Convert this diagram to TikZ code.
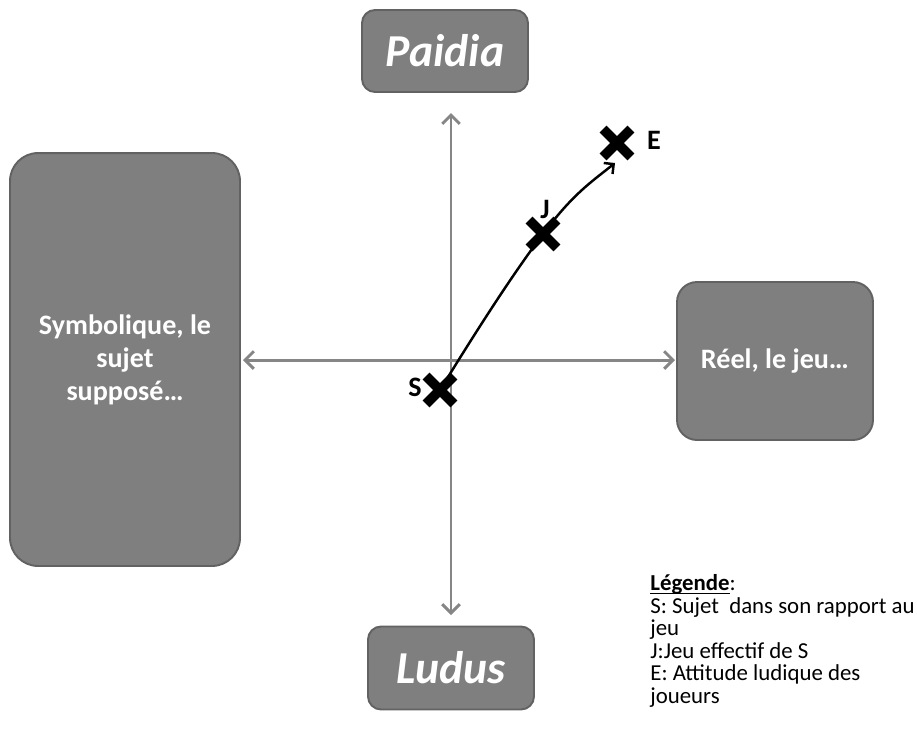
\documentclass[tikz,border=0pt]{standalone}
\usepackage{fontspec}
\setmainfont{Carlito}
\usetikzlibrary{arrows.meta}
\usetikzlibrary{shapes.misc}
\definecolor{boxgray}{RGB}{127,127,127}
\definecolor{boxline}{RGB}{98,98,98}
\definecolor{axisgray}{RGB}{134,134,134}
\newcommand\souligne[1]{\underline{\smash{#1}}}

\begin{document}
\begin{tikzpicture}[line cap=round,line join=round,x=0.02cm,y=-0.02cm,
  bloc/.style={draw=boxline,fill=boxgray,line width=1.1pt,text=white,inner sep=0pt,align=center},
  axe/.style={draw=axisgray,line width=1.7pt,{Straight Barb[length=5pt,width=10pt]}-{Straight Barb[length=5pt,width=10pt]}},
  xmark/.style={cross out,draw=black,line width=5.6pt,minimum size=0.36cm,inner sep=0pt,line cap=butt},
  lettre/.style={font=\fontsize{16}{18}\selectfont\bfseries}]
\useasboundingbox (0,0) rectangle (917,731);
% les quatre boites
\node[bloc,rounded corners=0.26cm,minimum width=3.32cm,minimum height=1.64cm,font=\fontsize{26}{30}\selectfont\bfseries\itshape] (paidia) at (445,51) {Paidia};
\node[bloc,rounded corners=0.26cm,minimum width=3.32cm,minimum height=1.66cm,font=\fontsize{26}{30}\selectfont\bfseries\itshape] (ludus) at (451,668) {Ludus};
\node[bloc,rounded corners=0.56cm,minimum width=4.6cm,minimum height=8.26cm,font=\fontsize{16}{18.8}\selectfont\bfseries] (symbolique) at (125,359.5) {Symbolique, le\\ sujet\\ supposé…};
\node[bloc,rounded corners=0.4cm,minimum width=3.92cm,minimum height=3.16cm,font=\fontsize{16}{18.8}\selectfont\bfseries] (reel) at (775,361) {Réel, le jeu…};
% axes
\coordinate (haut) at (451,113);
\coordinate (bas) at (451,615);
\coordinate (gauche) at (243,360);
\coordinate (droite) at (675,360);
\draw[axe] (haut) -- (bas);
\draw[axe] (gauche) -- (droite);
% S, J, E
\node[xmark] (S) at (440,390) {};
\node[xmark] (J) at (543,234) {};
\node[xmark] (E) at (617,143) {};
\coordinate (fin) at (615,163);
\draw[line width=1.4pt,-{Straight Barb[length=4pt,width=8pt]}] (S.center) .. controls +(40,-65) and +(-30,40) .. (J.center) .. controls +(30,-40) and +(-25,20) .. (fin);
\node[lettre] (lS) at (415,387) {S};
\node[lettre] (lJ) at (545,209) {J};
\node[lettre] (lE) at (654,140) {E};
% legende
\node[anchor=base west,align=left,inner sep=0pt,font=\fontsize{13}{12.8}\selectfont] (legende) at (650,703) {\souligne{\textbf{Légende}}:\\ S: Sujet\ \ dans son rapport au\\ jeu\\ J:Jeu effectif de S\\ E: Attitude ludique des\\ joueurs};
\end{tikzpicture}
\end{document}
